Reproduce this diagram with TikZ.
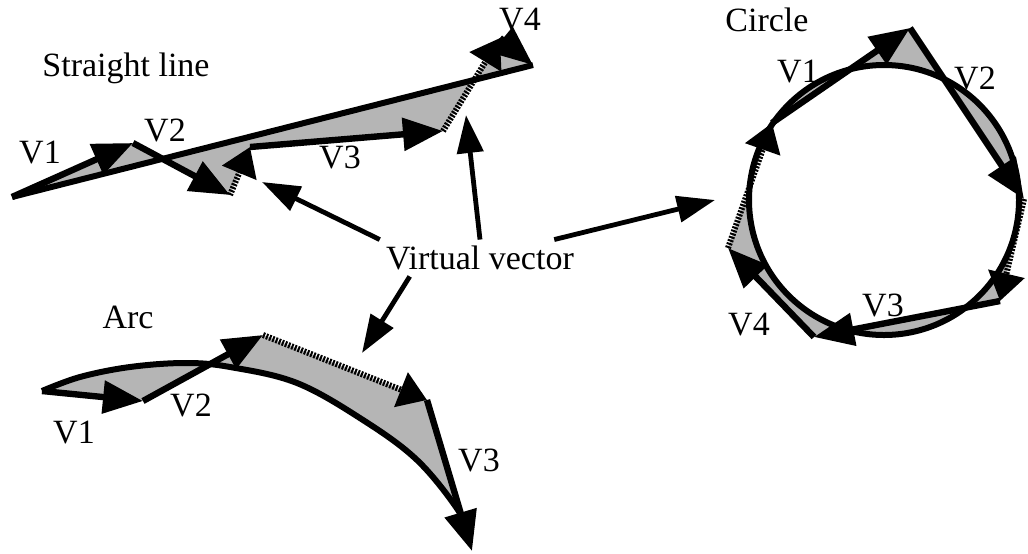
\documentclass[tikz,border=0pt]{standalone}
\usepackage{fontspec}
\setmainfont{Liberation Serif}
\usetikzlibrary{arrows.meta}

\newcommand\arcline{plot[smooth,tension=0.6] coordinates {(42,391) (80,377) (130,367) (185,363) (230,367) (297,383) (363,420) (417,460) (458,510) (469,537)}}

\begin{document}
\begin{tikzpicture}[x=0.5pt,y=-0.5pt,
  lbl/.style={font=\fontsize{17}{20}\selectfont,inner sep=0pt},
  vec/.style={line width=3.2pt,-{Triangle[length=20pt,width=16pt]}},
  track/.style={line width=3pt},
  virt/.style={line width=3pt,dash pattern=on 1pt off 0.7pt,-{Triangle[length=14pt,width=18pt]}},
  shade/.style={fill=gray!58,even odd rule},
  ptr/.style={line width=2.4pt,-{Triangle[length=19pt,width=13pt]}}]
\useasboundingbox (0,0) rectangle (1028,553);

% straight line
\coordinate (s0) at (12,197); \coordinate (s1) at (133,143);
\coordinate (s2) at (230,195); \coordinate (s3) at (250,147);
\coordinate (s4) at (443,131); \coordinate (s5) at (500,38);
\coordinate (s6) at (533,65);
\fill[shade] (s0) -- (s1) -- (s2) -- (s3) -- (s4) -- (s5) -- (s6) -- cycle;
\draw[track] (s0) -- (s6);
\draw[vec] (s0) -- (s1); \draw[vec] (s1) -- (s2); \draw[virt] (s2) -- (s3);
\draw[vec] (s3) -- (s4); \draw[virt] (s4) -- (s5); \draw[vec] (s5) -- (s6);
\node[lbl,anchor=base west] (sl) at (42,76) {Straight line};
\node[lbl] (sv1) at (40,153) {V1};
\node[lbl] (sv2) at (165,130) {V2};
\node[lbl] (sv3) at (340,157) {V3};
\node[lbl] (sv4) at (520,20) {V4};

% arc
\coordinate (a0) at (42,391); \coordinate (a1) at (143,401);
\coordinate (a2) at (263,335); \coordinate (a3) at (427,400);
\coordinate (a4) at (472,551);
\fill[shade] \arcline -- (a4) -- (a3) -- (a2) -- (a1) -- cycle;
\draw[track] \arcline;
\draw[vec] (a0) -- (a1); \draw[vec] (a1) -- (a2);
\draw[virt] (a2) -- (a3); \draw[vec] (a3) -- (a4);
\node[lbl] (al) at (128,317) {Arc};
\node[lbl] (av1) at (74,433) {V1};
\node[lbl] (av2) at (191,405) {V2};
\node[lbl] (av3) at (479,460) {V3};

% circle
\coordinate (c) at (884,200);
\coordinate (c1) at (772,123); \coordinate (c2) at (910,28);
\coordinate (c3) at (1024,199); \coordinate (c4) at (1000,301);
\coordinate (c5) at (814,337); \coordinate (c6) at (728,248);
\fill[shade] (c) circle[radius=67.5pt] (c1) -- (c2) -- (c3) -- (c4) -- (c5) -- (c6) -- cycle;
\draw[track] (c) circle[radius=67.5pt];
\draw[vec] (c1) -- (c2); \draw[vec] (c2) -- (c3); \draw[virt] (c3) -- (c4);
\draw[vec] (c4) -- (c5); \draw[vec] (c5) -- (c6); \draw[virt] (c6) -- (c1);
\node[lbl,anchor=base west] (cl) at (725,31) {Circle};
\node[lbl] (cv1) at (798,72) {V1};
\node[lbl] (cv2) at (975,78) {V2};
\node[lbl] (cv3) at (883,305) {V3};
\node[lbl] (cv4) at (749,325) {V4};

% pointers
\node[lbl,inner sep=3pt] (vv) at (480,258) {Virtual vector};
\coordinate (p1) at (262,182); \coordinate (p2) at (466,115);
\coordinate (p3) at (715,200); \coordinate (p4) at (362,353);
\draw[ptr] (vv.north west) -- (p1);
\draw[ptr] (vv.north) -- (p2);
\draw[ptr] ([xshift=-13pt]vv.north east) -- (p3);
\draw[ptr] ([xshift=15pt]vv.south west) -- (p4);
\end{tikzpicture}
\end{document}
